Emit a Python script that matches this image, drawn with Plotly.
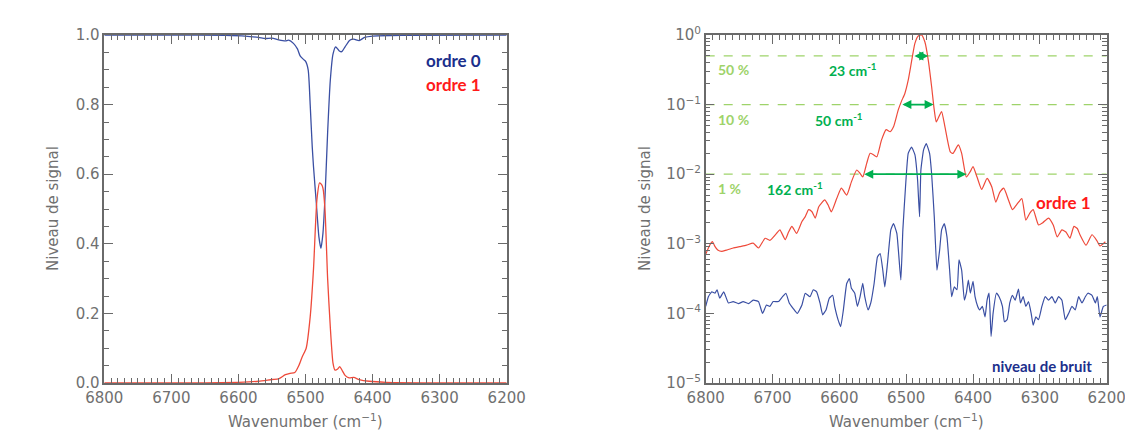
import numpy as np
import plotly.graph_objects as go

# ---------------- data ----------------
# Left panel (linear)
wn_o0 = [6800, 6700, 6620, 6590, 6570, 6560, 6550, 6540, 6530, 6525, 6518, 6512, 6508, 6503,
         6500, 6496, 6493, 6490, 6488, 6484, 6480, 6477, 6474, 6471, 6467, 6463, 6459, 6455,
         6450, 6446, 6441, 6434, 6428, 6420, 6412, 6400, 6350, 6200]
sig_o0 = [1.0, 1.0, 0.999, 0.997, 0.993, 0.990, 0.991, 0.986, 0.983, 0.985, 0.976, 0.96, 0.94, 0.93,
          0.925, 0.90, 0.80, 0.68, 0.62, 0.52, 0.42, 0.387, 0.43, 0.53, 0.72, 0.87, 0.945, 0.966,
          0.955, 0.952, 0.966, 0.985, 0.988, 0.984, 0.993, 0.997, 0.999, 1.0]

wn_o1 = [6800, 6650, 6600, 6570, 6550, 6540, 6530, 6523, 6516, 6510, 6505, 6499, 6493, 6488,
         6483, 6479, 6476, 6474, 6471, 6467, 6463, 6459, 6456, 6452, 6449, 6445, 6441, 6435,
         6428, 6420, 6405, 6380, 6200]
sig_o1 = [0.0, 0.0, 0.002, 0.005, 0.010, 0.012, 0.024, 0.028, 0.030, 0.050, 0.075, 0.10, 0.19, 0.33,
          0.526, 0.575, 0.57, 0.56, 0.50, 0.30, 0.16, 0.057, 0.037, 0.040, 0.047, 0.035, 0.022, 0.015,
          0.016, 0.010, 0.005, 0.002, 0.0]

# Right panel (log10 of signal)
wn_r1 = [6800, 6794, 6790, 6786, 6782, 6776, 6769, 6759, 6749, 6739, 6729, 6721, 6711, 6704,
         6694, 6689, 6681, 6676, 6671, 6664, 6656, 6651, 6646, 6641, 6636, 6631, 6627, 6622,
         6617, 6612, 6604, 6597, 6589, 6582, 6574, 6569, 6565, 6559, 6554, 6549, 6544, 6537,
         6530, 6524, 6519, 6512, 6507, 6502, 6497, 6492, 6487, 6482, 6477, 6472, 6467, 6462,
         6458, 6455, 6450, 6447, 6442, 6434, 6430, 6422, 6417, 6410, 6404, 6400, 6394, 6387,
         6379, 6372, 6366, 6360, 6354, 6347, 6341, 6335, 6327, 6321, 6315, 6310, 6302, 6296,
         6287, 6280, 6274, 6267, 6261, 6255, 6249, 6244, 6240, 6231, 6222, 6215, 6210, 6202]
log_r1 = [-3.15, -3.02, -2.97, -3.04, -3.09, -3.11, -3.09, -3.06, -3.04, -3.02, -2.99, -3.06, -2.92, -2.95,
          -2.85, -2.80, -2.94, -2.83, -2.75, -2.85, -2.68, -2.61, -2.51, -2.54, -2.63, -2.47, -2.42, -2.37,
          -2.44, -2.54, -2.35, -2.20, -2.30, -2.11, -1.94, -1.99, -2.04, -1.84, -1.70, -1.72, -1.75, -1.51,
          -1.36, -1.39, -1.32, -1.08, -0.95, -0.84, -0.65, -0.38, -0.12, -0.014, 0.0, -0.10, -0.36, -0.74,
          -1.08, -1.25, -1.15, -1.10, -1.32, -1.68, -1.70, -1.58, -1.70, -2.04, -1.96, -1.89, -2.04, -2.22,
          -2.06, -2.18, -2.40, -2.26, -2.20, -2.37, -2.51, -2.44, -2.35, -2.66, -2.56, -2.51, -2.73, -2.70,
          -2.63, -2.73, -2.90, -2.80, -2.83, -2.92, -2.75, -2.78, -2.87, -3.02, -2.87, -2.95, -3.03, -2.97]

wn_r0 = [6800, 6796, 6791, 6786, 6783, 6779, 6773, 6766, 6759, 6751, 6744, 6736, 6729, 6721,
         6715, 6709, 6704, 6699, 6691, 6685, 6680, 6675, 6669, 6663, 6656, 6651, 6644, 6639,
         6634, 6629, 6625, 6620, 6615, 6610, 6607, 6602, 6598, 6594, 6589, 6585, 6582, 6577,
         6573, 6569, 6565, 6562, 6557, 6553, 6548, 6543, 6539, 6535, 6532, 6528, 6523, 6519,
         6514, 6508, 6505, 6501, 6497, 6492, 6487, 6483, 6480, 6478, 6474, 6470, 6465, 6462,
         6458, 6454, 6450, 6447, 6443, 6439, 6435, 6432, 6428, 6424, 6421, 6417, 6413, 6410,
         6407, 6404, 6400, 6397, 6393, 6390, 6386, 6382, 6379, 6376, 6373, 6370, 6365, 6361,
         6356, 6353, 6349, 6345, 6341, 6337, 6332, 6329, 6325, 6321, 6317, 6313, 6310, 6306,
         6302, 6297, 6292, 6287, 6282, 6277, 6272, 6267, 6262, 6257, 6252, 6247, 6242, 6237,
         6232, 6228, 6222, 6217, 6214, 6210, 6205, 6200]
log_r0 = [-3.90, -3.76, -3.69, -3.71, -3.66, -3.78, -3.69, -3.85, -3.83, -3.86, -3.83, -3.86, -3.81, -3.83,
          -4.00, -3.88, -3.90, -3.83, -3.83, -3.76, -3.71, -3.85, -3.93, -4.00, -3.88, -3.71, -3.76, -3.66,
          -3.69, -3.85, -4.02, -3.95, -3.78, -3.74, -3.90, -4.09, -4.19, -3.95, -3.57, -3.50, -3.64, -3.71,
          -3.90, -3.76, -3.57, -3.76, -3.95, -3.85, -3.57, -3.19, -3.14, -3.38, -3.62, -3.28, -2.80, -2.71,
          -2.85, -3.52, -2.80, -2.18, -1.70, -1.61, -1.72, -2.08, -2.61, -1.94, -1.65, -1.56, -1.70, -1.99,
          -2.61, -3.38, -3.09, -2.80, -2.71, -2.90, -3.38, -3.76, -3.62, -3.66, -3.23, -3.38, -3.81, -3.71,
          -3.52, -3.71, -3.54, -3.76, -3.90, -3.95, -3.90, -4.05, -3.81, -3.71, -4.33, -4.00, -3.71, -3.76,
          -3.90, -4.12, -4.09, -3.85, -3.74, -3.81, -3.65, -3.85, -3.76, -3.90, -3.83, -4.00, -4.17, -4.05,
          -4.09, -3.90, -3.76, -3.81, -3.76, -3.85, -3.76, -3.81, -4.09, -4.00, -3.90, -3.95, -3.76, -3.85,
          -3.76, -3.71, -3.74, -3.85, -3.76, -4.05, -3.90, -3.88]

levels = [0.5, 0.1, 0.01]
level_labels = ["50 %", "10 %", "1 %"]
width_labels = ["23 cm<sup>-1</sup>", "50 cm<sup>-1</sup>", "162 cm<sup>-1</sup>"]
width_left = [6490, 6508, 6565]
width_right = [6467, 6459, 6410]

# ---------------- styling ----------------
BLUE = "#3a4fa3"
RED = "#ee4a3a"
AX = "#6a6a6a"
TXT = "#707070"
LGREEN = "#9ed36a"
DGREEN = "#00b050"
AFONT = "DejaVu Sans"
BFONT = "Lato"

# page has an 8px body margin -> figure is 8px smaller and offset
W, H = 1125, 438
TOP, BOT = 1 - 27 / H, 1 - 375 / H
XD1 = [96.3 / W, 498.7 / W]
XD2 = [697.7 / W, 1098.7 / W]
LOG_MINOR = [k * 10.0 ** e for e in range(-5, 0) for k in range(2, 10)]

fig = go.Figure()

fig.add_trace(go.Scatter(x=wn_o0, y=sig_o0, mode="lines", line=dict(color=BLUE, width=1.3, shape="spline", smoothing=0.6),
                         xaxis="x", yaxis="y", showlegend=False))
fig.add_trace(go.Scatter(x=wn_o1, y=sig_o1, mode="lines", line=dict(color=RED, width=1.3, shape="spline", smoothing=0.6),
                         xaxis="x", yaxis="y", showlegend=False))

for lv in levels:
    fig.add_trace(go.Scatter(x=[6800, 6200], y=[lv, lv], mode="lines",
                             line=dict(color=LGREEN, width=1.2, dash="dash"),
                             xaxis="x2", yaxis="y2", showlegend=False))

fig.add_trace(go.Scatter(x=wn_r1, y=10 ** np.array(log_r1), mode="lines",
                         line=dict(color=RED, width=1.2, shape="spline", smoothing=0.5),
                         xaxis="x2", yaxis="y2", showlegend=False))
fig.add_trace(go.Scatter(x=wn_r0, y=10 ** np.array(log_r0), mode="lines",
                         line=dict(color=BLUE, width=1.2, shape="spline", smoothing=0.4),
                         xaxis="x2", yaxis="y2", showlegend=False))

# invisible traces so the mirrored (top/right) tick axes get drawn
fig.add_trace(go.Scatter(x=[6500], y=[0.5], mode="markers", marker=dict(opacity=0), hoverinfo="skip",
                         xaxis="x3", yaxis="y3", showlegend=False))
fig.add_trace(go.Scatter(x=[6500], y=[0.5], mode="markers", marker=dict(opacity=0), hoverinfo="skip",
                         xaxis="x4", yaxis="y4", showlegend=False))

tick_common = dict(showgrid=False, zeroline=False, automargin=False, showline=True, linecolor=AX, linewidth=1.5,
                   ticks="inside", ticklen=9, tickwidth=1.2, tickcolor=AX,
                   tickfont=dict(family=AFONT, size=15, color=TXT))


def xax(domain, anchor, side="bottom", labels=True, overlay=None):
    d = dict(domain=domain, anchor=anchor, side=side, range=[6800, 6200], autorange=False,
             dtick=100, tick0=6200, showticklabels=labels,
             minor=dict(ticks="inside", ticklen=5, dtick=10, tick0=6200, tickcolor=AX, tickwidth=1),
             **tick_common)
    if overlay:
        d["overlaying"] = overlay
    return d


def ylin(anchor, side="left", labels=True, overlay=None):
    d = dict(domain=[BOT, TOP], anchor=anchor, side=side, range=[0, 1.0], autorange=False,
             dtick=0.2, tick0=0, tickformat=".1f", showticklabels=labels,
             minor=dict(ticks="inside", ticklen=5, dtick=0.05, tick0=0, tickcolor=AX, tickwidth=1),
             **tick_common)
    if overlay:
        d["overlaying"] = overlay
    return d


def ylog(anchor, side="left", labels=True, overlay=None):
    d = dict(domain=[BOT, TOP], anchor=anchor, side=side, type="log", range=[-5, 0], autorange=False,
             tickvals=[1e-5, 1e-4, 1e-3, 1e-2, 1e-1, 1],
             ticktext=["10<sup>−5</sup>", "10<sup>−4</sup>", "10<sup>−3</sup>", "10<sup>−2</sup>",
                       "10<sup>−1</sup>", "10<sup>0</sup>"],
             showticklabels=labels,
             minor=dict(ticks="inside", ticklen=5, tickcolor=AX, tickwidth=1, tickvals=LOG_MINOR),
             **tick_common)
    if overlay:
        d["overlaying"] = overlay
    return d


fig.update_layout(
    width=W, height=H,
    margin=dict(l=0, r=0, t=0, b=0, autoexpand=False),
    paper_bgcolor="white", plot_bgcolor="white",
    xaxis=xax(XD1, "y"),
    yaxis=ylin("x"),
    xaxis2=xax(XD2, "y2"),
    yaxis2=ylog("x2"),
    xaxis3=xax(XD1, "y3", side="top", labels=False, overlay="x"),
    yaxis3=ylin("x3", side="right", labels=False, overlay="y"),
    xaxis4=xax(XD2, "y4", side="top", labels=False, overlay="x2"),
    yaxis4=ylog("x4", side="right", labels=False, overlay="y2"),
)

ann = []
# axis titles
for xc in [45 / W, 637 / W]:
    ann.append(dict(x=xc, y=1 - 201 / H, xref="paper", yref="paper", text="Niveau de signal", textangle=-90,
                    xanchor="center", yanchor="middle",
                    showarrow=False, font=dict(family=AFONT, size=15, color=TXT)))
for xc in [(XD1[0] + XD1[1]) / 2, (XD2[0] + XD2[1]) / 2]:
    ann.append(dict(x=xc, y=1 - 413 / H, xref="paper", yref="paper", text="Wavenumber (cm<sup>−1</sup>)",
                    xanchor="center", yanchor="middle",
                    showarrow=False, font=dict(family=AFONT, size=15, color=TXT)))

# left legend text
ann.append(dict(x=6280, y=0.928, xref="x", yref="y", text="<b>ordre 0</b>", showarrow=False,
                font=dict(family=BFONT, size=17, color="#1c2f8c")))
ann.append(dict(x=6280, y=0.859, xref="x", yref="y", text="<b>ordre 1</b>", showarrow=False,
                font=dict(family=BFONT, size=17, color="#ff1a1a")))

label_y = [-0.49, -1.21, -2.20]
width_x = [6580, 6601, 6666]
for i, lv in enumerate(levels):
    ann.append(dict(x=6785, y=label_y[i], xref="x2", yref="y2", xanchor="left",
                    text="<b>" + level_labels[i] + "</b>", showarrow=False,
                    font=dict(family=BFONT, size=14, color=LGREEN)))
    ann.append(dict(x=width_x[i], y=label_y[i], xref="x2", yref="y2",
                    text="<b>" + width_labels[i] + "</b>", showarrow=False,
                    font=dict(family=BFONT, size=14, color=DGREEN)))
    ly = float(np.log10(lv))
    ann.append(dict(x=width_right[i], y=ly, ax=width_left[i], ay=ly, xref="x2", yref="y2",
                    axref="x2", ayref="y2", text="", showarrow=True, arrowhead=2, arrowside="end+start",
                    arrowsize=1.0, arrowwidth=1.8, arrowcolor=DGREEN))

ann.append(dict(x=6265, y=-2.41, xref="x2", yref="y2", text="<b>ordre 1</b>", showarrow=False,
                font=dict(family=BFONT, size=17, color="#ff1a1a")))
ann.append(dict(x=6297, y=-4.75, xref="x2", yref="y2", text="<b>niveau de bruit</b>", showarrow=False,
                font=dict(family=BFONT, size=15, color="#1c2f8c")))

fig.update_layout(annotations=ann)
fig.write_html("out.html")
